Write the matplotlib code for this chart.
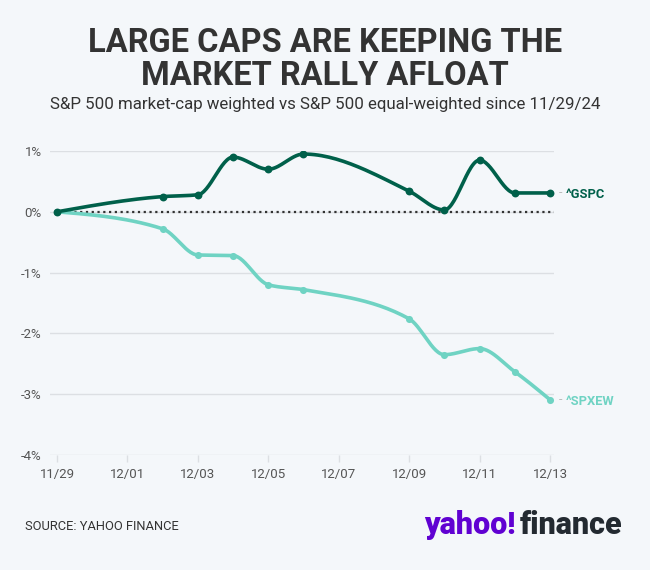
import numpy as np
import matplotlib
matplotlib.use('Agg')
import matplotlib.pyplot as plt
import matplotlib.dates as mdates

# trading days since 11/29/24
dates = ['2024-11-29', '2024-12-02', '2024-12-03', '2024-12-04', '2024-12-05',
         '2024-12-06', '2024-12-09', '2024-12-10', '2024-12-11', '2024-12-12',
         '2024-12-13']
gspc = [0.0, 0.25, 0.28, 0.90, 0.70, 0.95, 0.34, 0.03, 0.85, 0.31, 0.31]
spxew = [0.0, -0.28, -0.71, -0.72, -1.20, -1.28, -1.76, -2.35, -2.25, -2.63, -3.09]
tick_dates = ['2024-11-29', '2024-12-01', '2024-12-03', '2024-12-05',
              '2024-12-07', '2024-12-09', '2024-12-11', '2024-12-13']
y_ticks = [1, 0, -1, -2, -3, -4]

BG = '#f4f7fa'
DARK = '#00604a'
TEAL = '#6fd3c3'
TEXT = '#333333'


def monotone_curve(x, y, n=30):
    """d3 curveMonotoneX style smoothing between the points"""
    x = np.asarray(x, float)
    y = np.asarray(y, float)
    h = np.diff(x)
    s = np.diff(y) / h
    t = np.zeros_like(y)
    for i in range(1, len(x) - 1):
        p = (s[i - 1] * h[i] + s[i] * h[i - 1]) / (h[i - 1] + h[i])
        t[i] = (np.sign(s[i - 1]) + np.sign(s[i])) * min(abs(s[i - 1]), abs(s[i]), 0.5 * abs(p))
    t[0] = (3 * s[0] - t[1]) / 2
    t[-1] = (3 * s[-1] - t[-2]) / 2
    xs, ys = [], []
    u = np.linspace(0, 1, n)
    for i in range(len(x) - 1):
        dx = h[i] / 3
        p0 = (x[i], y[i])
        p1 = (x[i] + dx, y[i] + dx * t[i])
        p2 = (x[i + 1] - dx, y[i + 1] - dx * t[i + 1])
        p3 = (x[i + 1], y[i + 1])
        bx = (1 - u) ** 3 * p0[0] + 3 * (1 - u) ** 2 * u * p1[0] + 3 * (1 - u) * u ** 2 * p2[0] + u ** 3 * p3[0]
        by = (1 - u) ** 3 * p0[1] + 3 * (1 - u) ** 2 * u * p1[1] + 3 * (1 - u) * u ** 2 * p2[1] + u ** 3 * p3[1]
        xs.extend(bx)
        ys.extend(by)
    return np.array(xs), np.array(ys)


plt.rcParams['font.family'] = ['Roboto', 'DejaVu Sans']

x = mdates.date2num(np.array(dates, dtype='datetime64[D]'))
xt = mdates.date2num(np.array(tick_dates, dtype='datetime64[D]'))

fig = plt.figure(figsize=(6.5, 5.7), dpi=100, facecolor=BG)
ax = fig.add_axes([50 / 650, 1 - 455 / 570, 504 / 650, 304 / 570])
ax.set_facecolor(BG)

ax.set_xlim(x[0] - 0.2, x[-1] + 0.115)
ax.set_ylim(-4, 1)

for yv in y_ticks:
    ax.axhline(yv, color='#dcdfe3', lw=1, zorder=1)
ax.plot([x[0], ax.get_xlim()[1]], [0, 0], color='#333333', lw=1.6,
        linestyle=(0, (1, 1.6)), zorder=2)

for series, col, ms in [(spxew, TEAL, 26), (gspc, DARK, 32)]:
    cx, cy = monotone_curve(x, series)
    ax.plot(cx, cy, color=col, lw=2.6, solid_capstyle='round', zorder=3)
    ax.scatter(x, series, s=ms, color=col, zorder=4, linewidths=0)

# end labels
for series, col, name in [(gspc, DARK, '^GSPC'), (spxew, TEAL, '^SPXEW')]:
    ax.annotate('-', (x[-1], series[-1]), xytext=(6, 0), textcoords='offset points',
                va='center', ha='left', color='#bbbbbb', fontsize=9, annotation_clip=False)
    ax.annotate(name, (x[-1], series[-1]), xytext=(11, -1), textcoords='offset points',
                va='center', ha='left', color=col, fontsize=9.3, fontweight='bold',
                annotation_clip=False)

ax.set_yticks(y_ticks)
ax.set_yticklabels([f'{v}%' for v in y_ticks])
ax.set_xticks(xt)
ax.set_xticklabels([d[5:].replace('-', '/') for d in tick_dates])
ax.tick_params(axis='y', length=0, pad=6, labelsize=9.5, labelcolor='#555555')
ax.tick_params(axis='x', length=5, width=1, color='#dcdfe3', pad=4.5,
               labelsize=9.5, labelcolor='#555555')
for sp in ax.spines.values():
    sp.set_visible(False)

fig.text(0.5, 1 - 43 / 570, 'LARGE CAPS ARE KEEPING THE', ha='center', va='center',
         fontsize=23.5, fontweight='bold', color=TEXT)
fig.text(0.5, 1 - 76 / 570, 'MARKET RALLY AFLOAT', ha='center', va='center',
         fontsize=23.5, fontweight='bold', color=TEXT)
fig.text(0.5, 1 - 104 / 570,
         'S&P 500 market-cap weighted vs S&P 500 equal-weighted since 11/29/24',
         ha='center', va='center', fontsize=12.2, color=TEXT)

fig.text(25 / 650, 1 - 527 / 570, 'SOURCE: YAHOO FINANCE', ha='left', va='center',
         fontsize=9.3, color=TEXT)
fig.text(424 / 650, 1 - 525 / 570, 'yahoo!', ha='left', va='center',
         fontsize=22, fontweight='heavy', color='#6001d2')
fig.text(520 / 650, 1 - 525 / 570, 'finance', ha='left', va='center',
         fontsize=22, fontweight='heavy', color='#232a31')

fig.savefig('out.png', dpi=100, facecolor=BG)
